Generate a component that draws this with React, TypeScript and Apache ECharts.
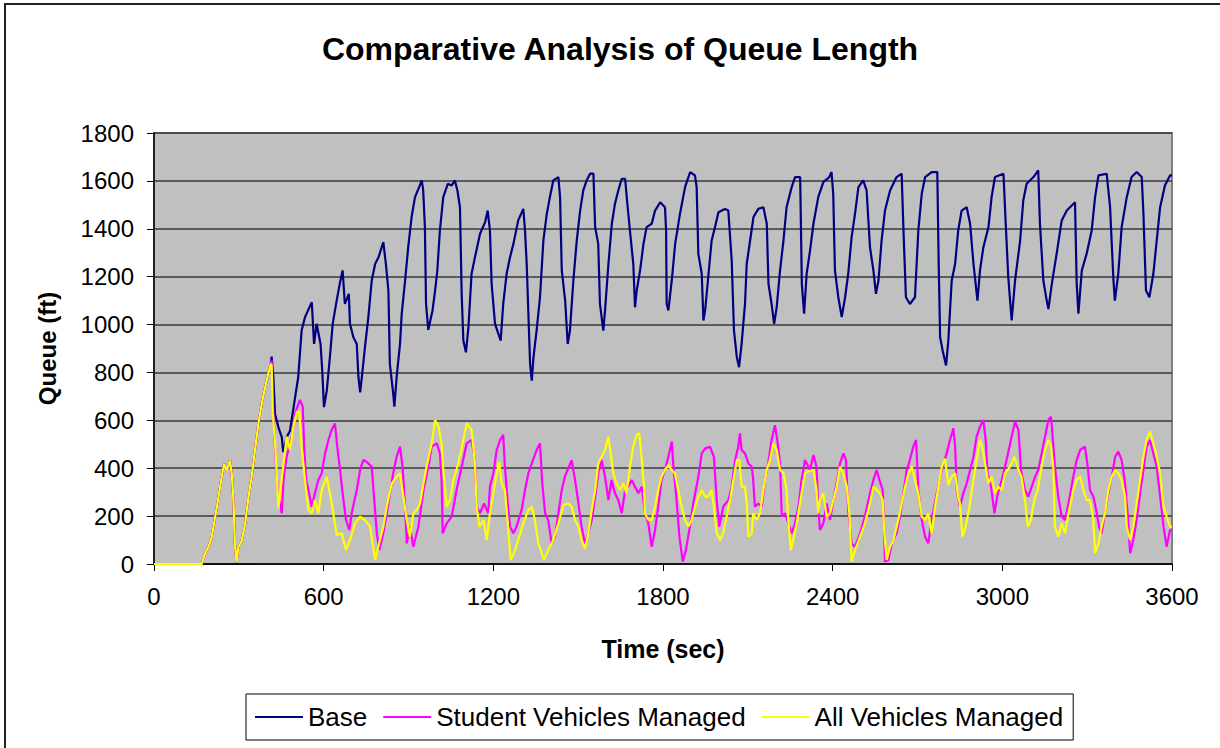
import React, { useEffect, useRef } from "react";
import * as echarts from "echarts";

const titleText = "Comparative Analysis of Queue Length";
const xAxisName = "Time (sec)";
const yAxisName = "Queue (ft)";
const seriesNames = ["Base", "Student Vehicles Managed", "All Vehicles Managed"];
const seriesColors = ["#000080", "#FF00FF", "#FFFF00"];

// shared start (all three scenarios identical until ~410 s)
const earlyPoints: number[][] = [
  [0, 0], [169, 0], [180, 42], [192, 70], [204, 111], [216, 195], [228, 279], [239, 362], [248, 418], [257, 390],
  [269, 432], [275, 376], [281, 265], [286, 84], [292, 7], [298, 70], [310, 97], [322, 167], [334, 279], [345, 362],
  [357, 474], [369, 585], [381, 669], [393, 738], [404, 794], [413, 836],
];

const baseTail: number[][] = [
  [416, 866], [422, 780], [428, 627], [440, 571], [452, 529], [457, 467], [469, 529], [481, 557], [499, 696], [510, 780],
  [516, 877], [522, 975], [534, 1031], [558, 1093], [566, 919], [575, 1003], [589, 919], [595, 808], [601, 655], [611, 724],
  [622, 864], [632, 1003], [640, 1059], [646, 1100], [658, 1177], [667, 1226], [675, 1086], [689, 1128], [693, 1003], [705, 947],
  [717, 919], [723, 780], [729, 717], [735, 780], [746, 905], [758, 1031], [770, 1184], [782, 1253], [794, 1281], [811, 1344],
  [820, 1253], [829, 1142], [834, 836], [846, 710], [850, 657], [858, 780], [870, 919], [876, 1045], [888, 1184], [899, 1323],
  [911, 1449], [923, 1532], [935, 1567], [947, 1602], [952, 1560], [958, 1407], [962, 1086], [970, 978], [985, 1059], [994, 1142],
  [1002, 1226], [1011, 1393], [1023, 1532], [1039, 1588], [1053, 1581], [1064, 1602], [1073, 1560], [1082, 1490], [1088, 1128], [1094, 933],
  [1103, 884], [1112, 989], [1123, 1212], [1135, 1281], [1153, 1379], [1171, 1428], [1180, 1476], [1188, 1393], [1194, 1170], [1206, 1003],
  [1218, 961], [1226, 933], [1235, 1086], [1247, 1212], [1259, 1281], [1271, 1337], [1288, 1435], [1306, 1483], [1312, 1393], [1318, 1253],
  [1324, 1045], [1330, 836], [1336, 766], [1342, 864], [1353, 975], [1365, 1114], [1377, 1351], [1389, 1462], [1400, 1532], [1412, 1602],
  [1430, 1616], [1436, 1532], [1442, 1226], [1454, 1100], [1463, 919], [1471, 975], [1483, 1184], [1495, 1351], [1507, 1476], [1518, 1560],
  [1530, 1602], [1542, 1630], [1554, 1630], [1560, 1407], [1571, 1337], [1577, 1086], [1589, 975], [1595, 1059], [1607, 1253], [1619, 1421],
  [1630, 1504], [1642, 1560], [1654, 1609], [1666, 1609], [1674, 1504], [1683, 1393], [1695, 1253], [1701, 1072], [1707, 1142], [1719, 1226],
  [1731, 1337], [1742, 1407], [1760, 1421], [1772, 1476], [1790, 1511], [1807, 1490], [1811, 1393], [1813, 1086], [1819, 1059], [1831, 1184],
  [1843, 1337], [1860, 1462], [1878, 1574], [1896, 1637], [1913, 1623], [1919, 1574], [1925, 1295], [1937, 1212], [1943, 1017], [1949, 1059],
  [1960, 1198], [1972, 1351], [1984, 1407], [1996, 1469], [2019, 1483], [2031, 1476], [2043, 1267], [2051, 975], [2061, 864], [2069, 822],
  [2078, 919], [2090, 1086], [2096, 1253], [2108, 1351], [2120, 1449], [2137, 1483], [2155, 1490], [2167, 1421], [2173, 1170], [2184, 1086],
  [2193, 1003], [2202, 1072], [2214, 1226], [2226, 1351], [2237, 1490], [2255, 1574], [2267, 1616], [2285, 1616], [2291, 1170], [2299, 1045],
  [2308, 1212], [2320, 1309], [2332, 1421], [2349, 1532], [2367, 1595], [2388, 1616], [2396, 1637], [2402, 1546], [2408, 1226], [2420, 1114],
  [2432, 1031], [2444, 1114], [2455, 1212], [2467, 1365], [2479, 1462], [2491, 1574], [2508, 1602], [2520, 1560], [2532, 1323], [2544, 1226],
  [2553, 1128], [2562, 1184], [2573, 1351], [2585, 1476], [2603, 1560], [2626, 1616], [2644, 1630], [2650, 1407], [2659, 1114], [2673, 1086],
  [2691, 1114], [2703, 1393], [2715, 1546], [2727, 1616], [2750, 1637], [2770, 1637], [2775, 1253], [2780, 947], [2789, 891], [2801, 829],
  [2809, 933], [2821, 1184], [2833, 1253], [2844, 1393], [2856, 1476], [2874, 1490], [2886, 1421], [2898, 1253], [2912, 1100], [2921, 1226],
  [2933, 1323], [2951, 1407], [2962, 1532], [2974, 1616], [3004, 1630], [3012, 1421], [3021, 1198], [3033, 1017], [3045, 1184], [3063, 1351],
  [3074, 1518], [3086, 1588], [3110, 1616], [3127, 1644], [3133, 1421], [3145, 1184], [3157, 1100], [3163, 1065], [3175, 1170], [3192, 1295],
  [3210, 1435], [3228, 1476], [3257, 1511], [3263, 1170], [3269, 1045], [3281, 1226], [3298, 1295], [3316, 1393], [3328, 1532], [3340, 1623],
  [3369, 1630], [3381, 1490], [3393, 1184], [3398, 1100], [3410, 1212], [3422, 1407], [3440, 1532], [3457, 1616], [3475, 1637], [3493, 1616],
  [3499, 1462], [3508, 1142], [3520, 1114], [3534, 1212], [3546, 1351], [3558, 1490], [3575, 1581], [3593, 1623], [3600, 1623],
];

const studentTail: number[][] = [
  [416, 850], [421, 657], [431, 420], [440, 281], [452, 212], [458, 351], [469, 448], [487, 532], [499, 629], [516, 685],
  [526, 657], [531, 490], [538, 351], [546, 309], [558, 239], [569, 295], [581, 351], [593, 379], [605, 462], [617, 518],
  [628, 560], [640, 587], [648, 490], [658, 393], [667, 295], [679, 184], [691, 142], [699, 212], [717, 309], [729, 393],
  [740, 434], [752, 427], [770, 406], [778, 281], [788, 128], [797, 58], [811, 128], [829, 253], [846, 379], [858, 448],
  [870, 490], [879, 406], [888, 239], [894, 86], [905, 156], [917, 72], [935, 156], [953, 309], [970, 406], [982, 490],
  [1000, 504], [1011, 462], [1017, 351], [1021, 128], [1035, 170], [1053, 198], [1070, 309], [1088, 406], [1106, 504], [1123, 518],
  [1135, 434], [1141, 239], [1153, 212], [1167, 253], [1182, 212], [1188, 323], [1200, 379], [1212, 476], [1224, 518], [1235, 539],
  [1241, 406], [1250, 267], [1259, 156], [1271, 128], [1282, 156], [1300, 226], [1312, 309], [1324, 379], [1336, 420], [1353, 476],
  [1365, 504], [1373, 337], [1383, 212], [1394, 184], [1406, 86], [1418, 114], [1430, 212], [1442, 309], [1453, 365], [1465, 400],
  [1477, 434], [1489, 351], [1501, 253], [1512, 156], [1524, 86], [1536, 128], [1548, 184], [1560, 281], [1571, 379], [1583, 434],
  [1595, 365], [1607, 267], [1618, 351], [1630, 295], [1642, 267], [1654, 212], [1666, 309], [1677, 323], [1689, 351], [1701, 323],
  [1713, 295], [1725, 323], [1736, 212], [1748, 170], [1760, 72], [1772, 142], [1783, 239], [1795, 351], [1807, 393], [1819, 448],
  [1831, 511], [1837, 406], [1848, 267], [1858, 114], [1870, 10], [1881, 58], [1893, 142], [1907, 253], [1925, 365], [1937, 462],
  [1949, 483], [1966, 490], [1980, 448], [1990, 267], [1999, 156], [2013, 239], [2031, 267], [2043, 323], [2055, 434], [2066, 490],
  [2072, 546], [2078, 476], [2090, 462], [2102, 420], [2114, 406], [2119, 351], [2125, 239], [2137, 253], [2149, 239], [2161, 351],
  [2172, 420], [2184, 518], [2196, 580], [2204, 518], [2214, 420], [2220, 198], [2232, 212], [2243, 170], [2255, 128], [2267, 170],
  [2279, 239], [2290, 351], [2302, 434], [2320, 393], [2332, 455], [2343, 406], [2349, 239], [2355, 142], [2367, 170], [2379, 253],
  [2391, 184], [2402, 267], [2414, 337], [2426, 420], [2438, 462], [2447, 434], [2455, 226], [2467, 86], [2479, 72], [2497, 128],
  [2514, 198], [2532, 295], [2544, 351], [2556, 393], [2565, 351], [2577, 309], [2582, 142], [2585, 10], [2597, 17], [2609, 86],
  [2626, 128], [2638, 198], [2650, 295], [2662, 393], [2673, 434], [2685, 490], [2695, 518], [2703, 309], [2715, 184], [2727, 114],
  [2738, 86], [2750, 184], [2768, 295], [2786, 393], [2803, 462], [2815, 518], [2827, 567], [2833, 490], [2839, 309], [2850, 239],
  [2862, 295], [2874, 337], [2886, 393], [2898, 448], [2909, 532], [2921, 574], [2933, 601], [2941, 518], [2948, 379], [2960, 323],
  [2972, 212], [2984, 295], [2998, 351], [3015, 434], [3033, 532], [3045, 594], [3057, 560], [3066, 393], [3080, 309], [3092, 281],
  [3104, 323], [3116, 365], [3127, 393], [3139, 462], [3151, 532], [3163, 601], [3172, 615], [3177, 546], [3186, 406], [3198, 281],
  [3210, 198], [3222, 184], [3234, 253], [3251, 365], [3263, 434], [3275, 476], [3292, 490], [3302, 406], [3310, 309], [3322, 281],
  [3334, 212], [3342, 156], [3351, 128], [3363, 212], [3375, 295], [3387, 365], [3399, 448], [3410, 469], [3422, 434], [3434, 337],
  [3443, 212], [3452, 45], [3463, 100], [3475, 184], [3487, 295], [3499, 393], [3510, 490], [3522, 518], [3534, 462], [3546, 406],
  [3558, 281], [3570, 156], [3581, 72], [3593, 142], [3600, 142],
];

const allTail: number[][] = [
  [416, 830], [420, 629], [428, 511], [434, 379], [440, 232], [446, 295], [458, 420], [469, 532], [481, 476], [493, 574],
  [505, 636], [514, 636], [522, 490], [534, 351], [546, 226], [558, 212], [569, 267], [581, 212], [593, 309], [611, 365],
  [622, 295], [634, 212], [646, 121], [664, 128], [679, 58], [693, 100], [711, 170], [729, 198], [746, 184], [764, 156],
  [782, 17], [793, 72], [811, 156], [823, 239], [841, 337], [858, 365], [870, 379], [882, 281], [894, 184], [905, 114],
  [917, 212], [929, 226], [941, 253], [953, 337], [964, 406], [982, 504], [994, 601], [1006, 574], [1017, 504], [1023, 393],
  [1035, 239], [1047, 267], [1059, 351], [1076, 420], [1094, 518], [1106, 587], [1123, 560], [1135, 420], [1141, 239], [1151, 156],
  [1165, 184], [1177, 100], [1188, 212], [1200, 295], [1212, 379], [1221, 427], [1229, 337], [1241, 309], [1253, 142], [1261, 17],
  [1273, 45], [1288, 100], [1306, 170], [1324, 226], [1336, 239], [1347, 184], [1359, 86], [1379, 17], [1394, 58], [1412, 100],
  [1430, 170], [1448, 246], [1465, 253], [1477, 239], [1489, 184], [1501, 156], [1512, 100], [1524, 65], [1536, 128], [1548, 226],
  [1560, 309], [1571, 420], [1583, 448], [1595, 476], [1607, 532], [1615, 462], [1624, 379], [1636, 337], [1648, 309], [1660, 337],
  [1671, 295], [1683, 406], [1695, 490], [1707, 539], [1716, 546], [1725, 434], [1733, 323], [1736, 212], [1748, 184], [1760, 184],
  [1772, 239], [1783, 309], [1795, 365], [1807, 393], [1819, 413], [1831, 393], [1842, 379], [1854, 309], [1866, 239], [1878, 184],
  [1890, 156], [1901, 184], [1913, 239], [1925, 281], [1937, 309], [1949, 281], [1960, 281], [1972, 309], [1980, 239], [1990, 128],
  [2002, 100], [2013, 130], [2025, 198], [2037, 267], [2049, 351], [2061, 434], [2070, 434], [2078, 323], [2090, 323], [2096, 253],
  [2102, 114], [2114, 128], [2119, 212], [2131, 184], [2143, 212], [2155, 309], [2167, 393], [2178, 434], [2190, 504], [2202, 476],
  [2214, 393], [2226, 379], [2237, 309], [2243, 184], [2252, 58], [2263, 114], [2275, 184], [2290, 295], [2302, 379], [2314, 386],
  [2332, 393], [2343, 309], [2349, 212], [2355, 267], [2367, 295], [2379, 198], [2391, 212], [2402, 267], [2414, 323], [2426, 406],
  [2438, 379], [2450, 323], [2459, 212], [2467, 10], [2479, 58], [2497, 114], [2514, 170], [2532, 253], [2544, 323], [2556, 309],
  [2567, 295], [2577, 267], [2582, 142], [2591, 17], [2603, 72], [2615, 100], [2632, 184], [2644, 253], [2656, 323], [2668, 379],
  [2680, 406], [2691, 351], [2703, 295], [2715, 198], [2727, 184], [2738, 212], [2750, 128], [2762, 239], [2774, 323], [2786, 406],
  [2797, 440], [2809, 330], [2821, 365], [2833, 379], [2844, 280], [2850, 253], [2859, 114], [2870, 156], [2882, 226], [2894, 323],
  [2909, 434], [2921, 518], [2929, 490], [2939, 420], [2951, 337], [2962, 365], [2974, 295], [2986, 323], [2998, 309], [3009, 379],
  [3027, 406], [3043, 448], [3057, 393], [3068, 365], [3080, 267], [3090, 156], [3101, 184], [3113, 267], [3125, 309], [3139, 406],
  [3151, 476], [3163, 518], [3172, 490], [3180, 406], [3186, 156], [3198, 114], [3210, 170], [3222, 128], [3234, 212], [3251, 309],
  [3263, 351], [3275, 365], [3287, 309], [3298, 267], [3310, 267], [3322, 184], [3328, 45], [3340, 86], [3351, 156], [3363, 212],
  [3375, 309], [3387, 365], [3399, 393], [3410, 379], [3422, 351], [3434, 281], [3440, 156], [3452, 100], [3463, 156], [3475, 253],
  [3487, 351], [3499, 448], [3510, 518], [3522, 553], [3534, 504], [3546, 448], [3558, 379], [3570, 239], [3581, 198], [3593, 156],
  [3600, 156],
];

const xTicks = { min: 0, max: 3600, interval: 600 };
const yTicks = { min: 0, max: 1800, interval: 200 };

const FONT = "'Liberation Sans', Arial, sans-serif";

export default function App() {
  const ref = useRef<HTMLDivElement>(null);
  useEffect(() => {
    if (!ref.current) return;
    const chart = echarts.init(ref.current, null, { renderer: "svg" });
    const tails = [baseTail, studentTail, allTail];
    chart.setOption({
      animation: false,
      backgroundColor: "#ffffff",
      textStyle: { fontFamily: FONT },
      title: {
        text: titleText,
        left: 615,
        top: 28,
        textAlign: "center",
        textStyle: { fontFamily: FONT, fontSize: 32, fontWeight: "bold", color: "#000" },
      },
      graphic: [
        {
          type: "rect",
          shape: { x: 5, y: 4, width: 1300, height: 800 },
          style: { fill: "none", stroke: "#222", lineWidth: 2 },
          silent: true,
          z: 100,
        },
      ],
      legend: {
        left: 246,
        top: 694,
        orient: "horizontal",
        icon: "rect",
        itemWidth: 48,
        itemHeight: 2,
        itemGap: 16,
        padding: [10, 10, 10, 9],
        borderColor: "#000",
        borderWidth: 1,
        backgroundColor: "#fff",
        textStyle: { fontFamily: FONT, fontSize: 26, color: "#000" },
        data: seriesNames,
      },
      grid: {
        left: 154,
        top: 133,
        width: 1018,
        height: 431,
        show: true,
        backgroundColor: "#C0C0C0",
        borderColor: "#808080",
        borderWidth: 2,
      },
      xAxis: {
        type: "value",
        min: xTicks.min,
        max: xTicks.max,
        interval: xTicks.interval,
        name: xAxisName,
        nameLocation: "middle",
        nameGap: 72,
        nameTextStyle: { fontFamily: FONT, fontSize: 25, fontWeight: "bold", color: "#000" },
        axisLine: { show: true, onZero: false, lineStyle: { color: "#000", width: 1.5 } },
        axisTick: { show: true, inside: false, length: 7, lineStyle: { color: "#000", width: 1 } },
        axisLabel: { fontFamily: FONT, fontSize: 24, color: "#000", margin: 20, formatter: (v: number) => String(v) },
        splitLine: { show: false },
      },
      yAxis: {
        type: "value",
        min: yTicks.min,
        max: yTicks.max,
        interval: yTicks.interval,
        name: yAxisName,
        nameLocation: "middle",
        nameGap: 95,
        nameRotate: 90,
        nameTextStyle: { fontFamily: FONT, fontSize: 24, fontWeight: "bold", color: "#000" },
        axisLine: { show: true, lineStyle: { color: "#000", width: 1.5 } },
        axisTick: { show: true, inside: false, length: 7, lineStyle: { color: "#000", width: 1 } },
        axisLabel: { fontFamily: FONT, fontSize: 24, color: "#000", margin: 20, formatter: (v: number) => String(v) },
        splitLine: { show: true, lineStyle: { color: "#3a3a3a", width: 1.5 } },
      },
      series: seriesNames.map((name, i) => ({
        name,
        type: "line",
        data: earlyPoints.concat(tails[i]),
        showSymbol: false,
        symbol: "none",
        color: seriesColors[i],
        lineStyle: { color: seriesColors[i], width: 2.2 },
        z: 2 + i,
      })),
    });
    return () => chart.dispose();
  }, []);
  return (
    <div
      ref={ref}
      style={{ position: "fixed", left: 0, top: 0, width: 1220, height: 748 }}
    />
  );
}
